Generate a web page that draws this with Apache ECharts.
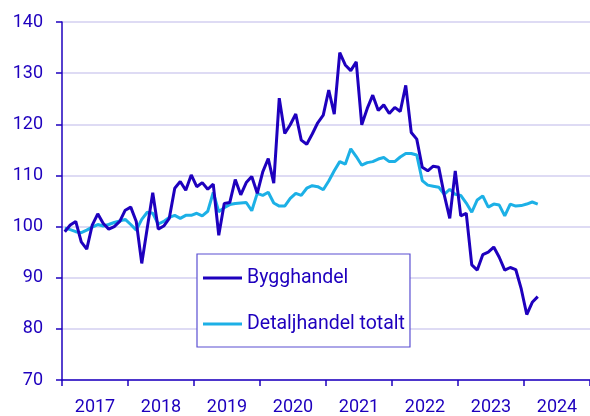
<!DOCTYPE html>
<html>
<head>
<meta charset="utf-8">
<script src="https://cdn.jsdelivr.net/npm/echarts@6/dist/echarts.min.js"></script>
<style>
html,body{margin:0;padding:0;background:#fff;}
#chart{width:590px;height:416px;}
</style>
</head>
<body>
<div id="chart"></div>
<script>
// Year tick labels (category bands on the x-axis)
var years = ['2017','2018','2019','2020','2021','2022','2023','2024'];
// Monthly index values, January 2017 – March 2024
var bygghandel = [
  99.0,100.3,101.0,97.0,95.6,100.3,102.5,100.6,99.5,100.0,101.0,103.2,
  103.8,101.0,92.8,99.7,106.6,99.5,100.1,101.6,107.5,108.8,107.1,110.1,
  107.8,108.6,107.3,108.3,98.3,104.5,104.7,109.2,106.2,108.6,109.8,106.5,
  110.7,113.3,108.5,125.1,118.2,119.9,122.0,116.9,116.1,118.1,120.3,121.8,
  126.7,122.0,134.0,131.6,130.5,132.2,119.9,123.1,125.7,122.7,123.8,122.1,
  123.3,122.5,127.6,118.4,117.1,111.6,110.9,111.8,111.6,106.2,101.6,110.9,
  102.1,102.6,92.5,91.5,94.5,95.0,96.0,94.0,91.5,92.0,91.6,87.8,
  82.8,85.2,86.3
];
var detaljhandel = [
  99.7,99.4,99.0,98.8,99.3,99.9,100.4,100.1,100.4,100.8,101.1,101.4,
  100.4,99.3,101.4,102.8,102.6,100.5,101.0,101.8,102.2,101.6,102.2,102.2,
  102.6,102.1,103.0,106.7,102.9,103.7,104.3,104.5,104.6,104.7,103.1,106.5,
  106.1,106.7,104.6,104.0,104.0,105.5,106.5,106.1,107.5,108.0,107.8,107.2,
  108.9,110.9,112.7,112.2,115.2,113.7,112.0,112.5,112.7,113.2,113.5,112.7,
  112.7,113.6,114.3,114.3,114.0,109.0,108.1,107.9,107.7,106.3,107.3,106.3,
  106.1,104.6,102.8,105.2,106.0,103.8,104.4,104.2,102.1,104.4,104.0,104.1,
  104.4,104.8,104.4
];
var yTicks = [70,80,90,100,110,120,130,140];

function toPoints(arr){
  // month index (mid-month) on a continuous month scale
  return arr.map(function(v,i){ return [i + 0.5, v]; });
}

var blue = '#1e00be';
var light = '#1cb0e6';
var chart = echarts.init(document.getElementById('chart'), null, {renderer:'canvas'});
chart.setOption({
  animation:false,
  backgroundColor:'#ffffff',
  textStyle:{fontFamily:'Roboto'},
  grid:{left:62, right:-3, top:22, bottom:36, containLabel:false},
  legend:{
    orient:'vertical',
    left:197, top:254,
    padding:[13,5,12,6],
    backgroundColor:'#ffffff',
    borderColor:'#5a4fd2', borderWidth:1.2,
    icon:'rect', itemWidth:39, itemHeight:3,
    itemGap:24,
    textStyle:{color:blue, fontSize:19.5, fontFamily:'Roboto', lineHeight:22},
    data:['Bygghandel','Detaljhandel totalt']
  },
  xAxis:[{
    type:'category',
    data:years,
    boundaryGap:true,
    axisLine:{show:true, lineStyle:{color:blue, width:1.5}},
    axisTick:{show:true, length:6, lineStyle:{color:blue, width:1.5}},
    axisLabel:{color:blue, fontSize:18, margin:18, fontFamily:'Roboto'},
    splitLine:{show:false}
  },{
    type:'value',
    min:0, max:years.length*12,
    show:false
  }],
  yAxis:{
    type:'value',
    min:70, max:140, interval:10,
    axisLine:{show:true, lineStyle:{color:blue, width:1.5}},
    axisTick:{show:true, length:6, lineStyle:{color:blue, width:1.5}},
    axisLabel:{color:blue, fontSize:18, margin:19, fontFamily:'Roboto'},
    splitLine:{show:true, lineStyle:{color:'#d3cff1', width:1.5}}
  },
  series:[{
    name:'Bygghandel',
    type:'line',
    xAxisIndex:1,
    data:toPoints(bygghandel),
    symbol:'none',
    itemStyle:{color:blue},
    lineStyle:{color:blue, width:3},
    z:3
  },{
    name:'Detaljhandel totalt',
    type:'line',
    xAxisIndex:1,
    data:toPoints(detaljhandel),
    symbol:'none',
    itemStyle:{color:light},
    lineStyle:{color:light, width:3},
    z:2
  }]
});
</script>
</body>
</html>
